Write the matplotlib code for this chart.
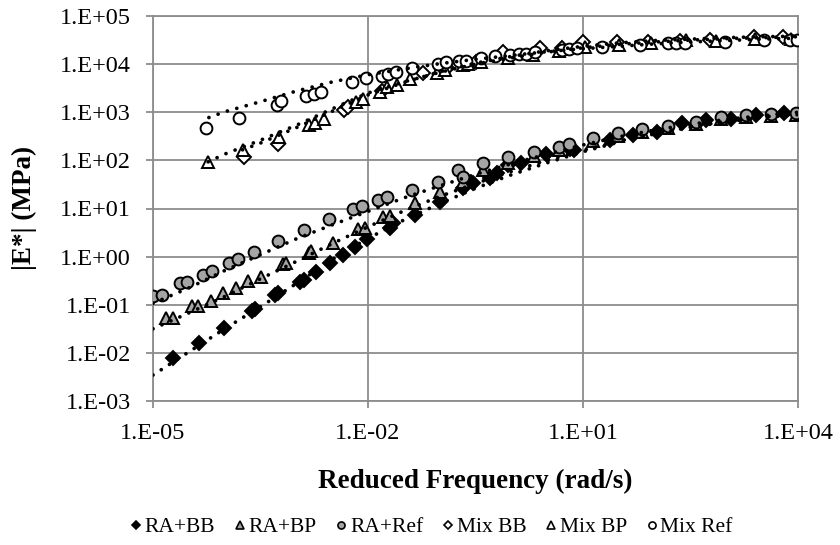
import numpy as np
import matplotlib
matplotlib.use("Agg")
import matplotlib.pyplot as plt
from matplotlib.lines import Line2D

plt.rcParams['font.family'] = ['Liberation Serif', 'DejaVu Serif']

# ---- measured data (log10 of reduced frequency [rad/s] and log10 |E*| [MPa]) ----
ra_bb_logf = [-4.72, -4.36, -4.01, -3.62, -3.58, -3.30, -3.25, -2.95, -2.90, -2.72, -2.53, -2.35, -2.18,
              -2.02, -1.69, -1.65, -1.34, -1.00, -0.67, -0.53, -0.30, -0.20, -0.04, 0.14, 0.49, 0.82,
              0.87, 1.38, 1.70, 2.03, 2.38, 2.72, 3.07, 3.42, 3.80]
ra_bb_logE = [-2.11, -1.80, -1.48, -1.12, -1.09, -0.80, -0.76, -0.52, -0.49, -0.31, -0.14, 0.03, 0.21,
              0.36, 0.59, 0.70, 0.86, 1.14, 1.42, 1.52, 1.63, 1.73, 1.90, 1.95, 2.13, 2.23,
              2.22, 2.42, 2.53, 2.60, 2.77, 2.84, 2.87, 2.94, 2.98]

ra_bp_logf = [-4.82, -4.72, -4.46, -4.37, -4.19, -4.02, -3.84, -3.68, -3.49, -3.18, -3.14, -2.83, -2.79,
              -2.49, -2.14, -2.04, -1.79, -1.69, -1.34, -0.99, -0.67, -0.39, -0.04, 0.31, 0.66, 1.14,
              1.49, 1.82, 2.19, 2.58, 2.93, 3.27, 3.62, 3.97]
ra_bp_logE = [-1.28, -1.28, -1.03, -1.03, -0.92, -0.75, -0.66, -0.51, -0.42, -0.16, -0.13, 0.07, 0.12,
              0.29, 0.57, 0.60, 0.83, 0.85, 1.11, 1.35, 1.56, 1.80, 1.94, 2.09, 2.22, 2.40,
              2.51, 2.60, 2.67, 2.76, 2.86, 2.90, 2.93, 2.95]

ra_ref_logf = [-5.00, -4.87, -4.63, -4.52, -4.30, -4.18, -3.94, -3.82, -3.59, -3.25, -2.90, -2.55, -2.21,
               -2.08, -1.86, -1.73, -1.38, -1.03, -0.74, -0.68, -0.39, -0.04, 0.31, 0.66, 0.80, 1.14,
               1.49, 1.82, 2.19, 2.58, 2.93, 3.27, 3.62, 3.97]
ra_ref_logE = [-0.82, -0.80, -0.55, -0.52, -0.38, -0.30, -0.14, -0.04, 0.09, 0.32, 0.55, 0.78, 0.99,
               1.05, 1.18, 1.23, 1.39, 1.56, 1.79, 1.66, 1.94, 2.06, 2.18, 2.28, 2.35, 2.46,
               2.56, 2.65, 2.71, 2.80, 2.91, 2.94, 2.96, 2.99]

mix_bb_logf = [-3.73, -3.25, -2.34, -2.28, -1.80, -1.23, -0.90, -0.50, -0.11, 0.40, 0.70, 1.00, 1.47,
               1.90, 2.35, 2.77, 3.38, 3.79]
mix_bb_logE = [2.08, 2.35, 3.05, 3.10, 3.45, 3.81, 3.92, 4.05, 4.26, 4.33, 4.34, 4.45, 4.47,
               4.46, 4.48, 4.50, 4.57, 4.56]

mix_bp_logf = [-4.23, -3.74, -3.24, -2.83, -2.74, -2.62, -2.17, -2.07, -1.83, -1.74, -1.60, -1.41, -1.04,
               -0.93, -0.67, -0.60, -0.42, -0.05, 0.30, 0.66, 1.03, 1.50, 1.95, 2.44, 2.85, 3.40, 3.90]
mix_bp_logE = [1.97, 2.22, 2.49, 2.74, 2.77, 2.87, 3.22, 3.28, 3.43, 3.53, 3.57, 3.70, 3.82,
               3.88, 3.98, 4.00, 4.05, 4.13, 4.20, 4.27, 4.36, 4.40, 4.44, 4.50, 4.49, 4.52, 4.53]

mix_ref_logf = [-4.26, -3.80, -3.27, -3.21, -2.87, -2.76, -2.66, -2.22, -2.03, -1.81, -1.72, -1.61, -1.39,
                -1.03, -0.91, -0.73, -0.63, -0.43, -0.23, -0.02, 0.11, 0.20, 0.33, 0.70, 0.80, 0.91,
                1.27, 1.80, 2.19, 2.30, 2.42, 2.98, 3.52, 3.89, 3.98]
mix_ref_logE = [2.67, 2.89, 3.15, 3.24, 3.34, 3.37, 3.43, 3.63, 3.72, 3.76, 3.80, 3.84, 3.92,
                4.00, 4.04, 4.07, 4.07, 4.12, 4.17, 4.19, 4.22, 4.22, 4.26, 4.29, 4.31, 4.33,
                4.36, 4.40, 4.43, 4.43, 4.43, 4.47, 4.50, 4.50, 4.50]

# ---- fitted master-curve trend lines (log10 values) ----
fit_ra_bb_logf = [-5.0, -4.5, -4.0, -3.5, -3.0, -2.5, -2.0, -1.5, -1.0, -0.5, 0.0, 0.5, 1.0, 1.5, 2.0, 2.5, 3.0, 3.5, 4.0]
fit_ra_bb_logE = [-2.46, -1.98, -1.50, -1.04, -0.56, -0.06, 0.38, 0.76, 1.10, 1.42, 1.70, 1.95, 2.18, 2.38, 2.55, 2.69, 2.80, 2.89, 2.95]

fit_ra_bp_logf = [-5.0, -4.5, -4.0, -3.5, -3.0, -2.5, -2.0, -1.5, -1.0, -0.5, 0.0, 0.5, 1.0, 1.5, 2.0, 2.5, 3.0, 3.5, 4.0]
fit_ra_bp_logE = [-1.50, -1.17, -0.83, -0.46, -0.10, 0.27, 0.62, 0.95, 1.25, 1.52, 1.77, 2.00, 2.21, 2.40, 2.56, 2.70, 2.81, 2.90, 2.97]

fit_ra_ref_logf = [-5.0, -4.5, -4.0, -3.5, -3.0, -2.5, -2.0, -1.5, -1.0, -0.5, 0.0, 0.5, 1.0, 1.5, 2.0, 2.5, 3.0, 3.5, 4.0]
fit_ra_ref_logE = [-0.97, -0.65, -0.29, 0.04, 0.37, 0.66, 0.94, 1.22, 1.47, 1.71, 1.93, 2.13, 2.32, 2.49, 2.63, 2.75, 2.85, 2.93, 3.00]

fit_mix_bb_logf = [-3.75, -3.5, -3.0, -2.5, -2.0, -1.5, -1.0, -0.5, 0.0, 0.5, 1.0, 1.5, 2.0, 2.5, 3.0, 3.5, 4.0]
fit_mix_bb_logE = [2.22, 2.36, 2.68, 3.02, 3.36, 3.62, 3.84, 4.02, 4.16, 4.28, 4.37, 4.44, 4.49, 4.52, 4.55, 4.57, 4.58]

fit_mix_bp_logf = [-4.23, -4.0, -3.5, -3.0, -2.5, -2.0, -1.5, -1.0, -0.5, 0.0, 0.5, 1.0, 1.5, 2.0, 2.5, 3.0, 3.5, 4.0]
fit_mix_bp_logE = [1.97, 2.13, 2.42, 2.73, 3.07, 3.40, 3.63, 3.83, 4.00, 4.13, 4.25, 4.34, 4.41, 4.46, 4.50, 4.53, 4.55, 4.57]

fit_mix_ref_logf = [-4.22, -4.0, -3.5, -3.0, -2.5, -2.0, -1.5, -1.0, -0.5, 0.0, 0.5, 1.0, 1.5, 2.0, 2.5, 3.0, 3.5, 4.0]
fit_mix_ref_logE = [2.89, 3.01, 3.22, 3.44, 3.63, 3.78, 3.90, 4.01, 4.10, 4.18, 4.26, 4.32, 4.37, 4.42, 4.46, 4.49, 4.52, 4.54]

series_names = ["RA+BB", "RA+BP", "RA+Ref", "Mix BB", "Mix BP", "Mix Ref"]
x_ticks = [1e-5, 1e-2, 1e1, 1e4]
x_tick_labels = ["1.E-05", "1.E-02", "1.E+01", "1.E+04"]
y_ticks = [1e-3, 1e-2, 1e-1, 1e0, 1e1, 1e2, 1e3, 1e4, 1e5]
y_tick_labels = ["1.E-03", "1.E-02", "1.E-01", "1.E+00", "1.E+01", "1.E+02", "1.E+03", "1.E+04", "1.E+05"]

def p10(v):
    return np.power(10.0, np.asarray(v, dtype=float))

W, H = 840, 545
fig = plt.figure(figsize=(W / 100, H / 100), dpi=100)
ax = fig.add_axes([153 / W, 1 - 401 / H, 645 / W, 385 / H])
ax.set_xscale('log')
ax.set_yscale('log')
ax.set_xlim(1e-5, 1e4)
ax.set_ylim(1e-3, 1e5)

grid_c = '#8c8c8c'
ax.set_xticks(x_ticks)
ax.set_xticklabels(x_tick_labels)
ax.set_yticks(y_ticks)
ax.set_yticklabels(y_tick_labels)
ax.minorticks_off()
ax.grid(True, which='major', color=grid_c, linewidth=1.3, zorder=0)
ax.set_axisbelow(True)
for s in ax.spines.values():
    s.set_color(grid_c)
    s.set_linewidth(1.3)
ax.tick_params(axis='both', colors=grid_c, length=5, width=1.3, labelsize=17.5,
               labelcolor='black')
ax.tick_params(axis='y', pad=11)
ax.tick_params(axis='x', pad=11)

gray = '#a5a5a5'
ew = 1.4
styles = [
    dict(marker='D', mfc='black', mec='black', ms=7),
    dict(marker='^', mfc=gray, mec='black', ms=9),
    dict(marker='o', mfc=gray, mec='black', ms=8.5),
    dict(marker='D', mfc='white', mec='black', ms=7),
    dict(marker='^', mfc='white', mec='black', ms=9),
    dict(marker='o', mfc='white', mec='black', ms=8.5),
]
data = [(ra_bb_logf, ra_bb_logE), (ra_bp_logf, ra_bp_logE), (ra_ref_logf, ra_ref_logE),
        (mix_bb_logf, mix_bb_logE), (mix_bp_logf, mix_bp_logE), (mix_ref_logf, mix_ref_logE)]
fits = [(fit_ra_bb_logf, fit_ra_bb_logE), (fit_ra_bp_logf, fit_ra_bp_logE), (fit_ra_ref_logf, fit_ra_ref_logE),
        (fit_mix_bb_logf, fit_mix_bb_logE), (fit_mix_bp_logf, fit_mix_bp_logE), (fit_mix_ref_logf, fit_mix_ref_logE)]

for i, ((lf, le), st) in enumerate(zip(data, styles)):
    ax.plot(p10(lf), p10(le), linestyle='none', mew=ew, zorder=3 + i * 0.1, **st)

for lf, le in fits:
    ax.plot(p10(lf), p10(le), color='black', linewidth=2.7,
            linestyle=(0, (0.01, 2.6)), dash_capstyle='round', zorder=4)

fig.text(475 / W, 1 - 481 / H, 'Reduced Frequency (rad/s)', fontsize=19.5, fontweight='bold',
         ha='center', va='center')
fig.text(24 / W, 1 - 208 / H, '|E*| (MPa)', fontsize=19.5, fontweight='bold',
         ha='center', va='center', rotation=90)

handles = [Line2D([], [], linestyle='none', mew=1.2,
                  **{**st, 'ms': st['ms'] * 0.6}) for st in styles]
fig.legend(handles, series_names, loc='center', bbox_to_anchor=(430 / W, 1 - 527 / H), ncol=6,
           frameon=False, fontsize=15.5, handletextpad=0.0, columnspacing=0.75,
           handlelength=0.8)

fig.savefig('out.png', dpi=100)
